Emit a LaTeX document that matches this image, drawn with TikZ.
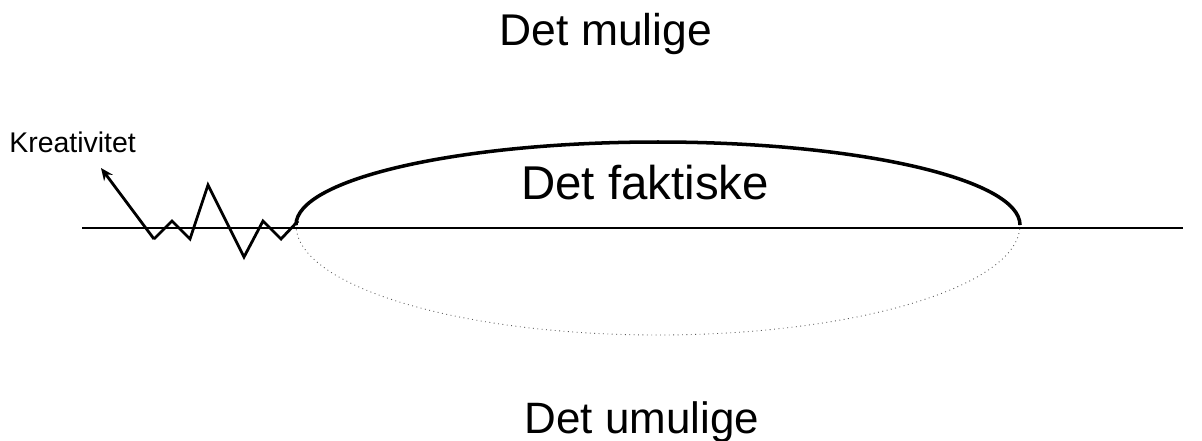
\documentclass[tikz,border=0pt]{standalone}
\usepackage{fontspec}
\setmainfont{Liberation Sans}
\usetikzlibrary{arrows.meta}
\begin{document}
\begin{tikzpicture}[x=0.02cm,y=-0.02cm]
      \useasboundingbox (0,0) rectangle (1202,440);
      \draw
        (606,45) node[anchor=base,font=\fontsize{25.3}{28}\selectfont] (mulige){Det mulige}
        (645,199) node[anchor=base,font=\fontsize{27}{30}\selectfont] (faktiske){Det faktiske}
        (642,433) node[anchor=base,font=\fontsize{25}{28}\selectfont] (umulige){Det umulige}
        (9,152) node[anchor=base west,inner sep=0pt,font=\fontsize{16.2}{18}\selectfont] (kreativitet){Kreativitet};
      \coordinate (a) at (101,168);
      \coordinate (z0) at (154,239);
      \coordinate (z1) at (172,221);
      \coordinate (z2) at (190,239);
      \coordinate (z3) at (208,185);
      \coordinate (z4) at (244,257);
      \coordinate (z5) at (263,221);
      \coordinate (z6) at (281,239);
      \coordinate (z7) at (298,221);
      \coordinate (l) at (82,228);
      \coordinate (r) at (1183,228);
      \begin{scope}[line width=1.6pt]
        \draw (l) -- (r);
        \draw[-{Stealth[length=7pt,width=6pt]}] (z0) -- (a);
        \draw (z0) -- (z1) -- (z2) -- (z3) -- (z4) -- (z5) -- (z6) -- (z7);
        \draw[line width=2pt] (296,225) arc[start angle=180,end angle=360,x radius=362,y radius=83];
      \end{scope}
      \draw[gray!70!black,line width=0.5pt,dotted] (296,225) arc[start angle=180,end angle=0,x radius=362,y radius=110];
    \end{tikzpicture}
\end{document}
